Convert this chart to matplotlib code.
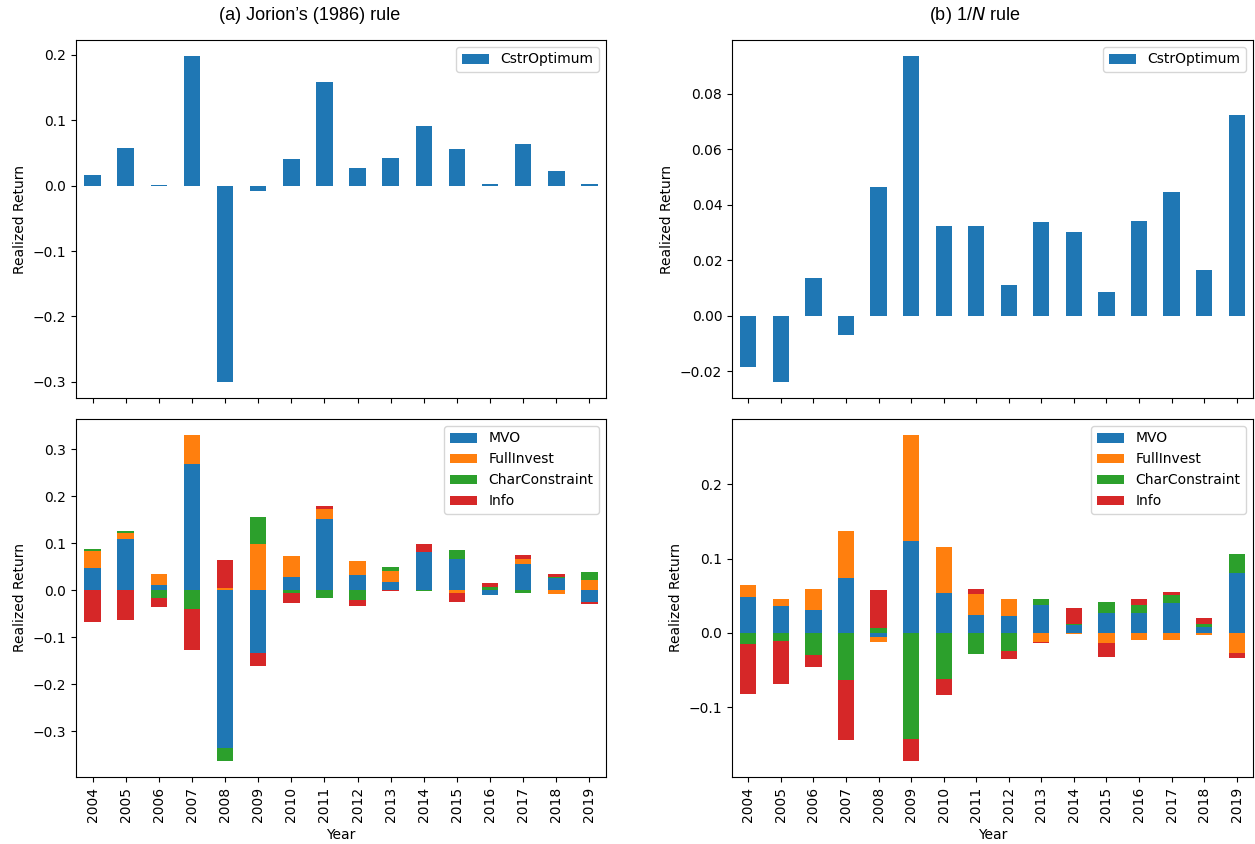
import matplotlib
matplotlib.use("Agg")
import matplotlib.pyplot as plt
import numpy as np

years = [str(y) for y in range(2004, 2020)]
series_names = ["MVO", "FullInvest", "CharConstraint", "Info"]
colors = ["#1f77b4", "#ff7f0e", "#2ca02c", "#d62728"]

# (a) Jorion's rule
cstr_a = [0.016, 0.058, 0.001, 0.198, -0.300, -0.008, 0.041, 0.158,
          0.027, 0.043, 0.091, 0.056, 0.003, 0.063, 0.022, 0.003]
mvo_a = [0.047, 0.110, 0.012, 0.268, -0.335, -0.133, 0.029, 0.152,
         0.032, 0.018, 0.081, 0.067, -0.010, 0.056, 0.026, -0.025]
full_a = [0.036, 0.011, 0.022, 0.062, 0.004, 0.098, 0.043, 0.020,
          0.030, 0.022, 0.000, -0.006, 0.001, 0.011, -0.008, 0.022]
char_a = [0.004, 0.006, -0.017, -0.040, -0.028, 0.058, -0.006, -0.017,
          -0.020, 0.009, -0.001, 0.018, 0.006, -0.005, 0.002, 0.016]
info_a = [-0.068, -0.063, -0.018, -0.088, 0.060, -0.028, -0.021, 0.007,
          -0.013, -0.002, 0.017, -0.018, 0.009, 0.007, 0.006, -0.005]

# (b) 1/N rule
cstr_b = [-0.0185, -0.0238, 0.0137, -0.0069, 0.0465, 0.0935, 0.0322, 0.0322,
          0.0109, 0.0336, 0.0302, 0.0086, 0.0340, 0.0446, 0.0163, 0.0725]
mvo_b = [0.048, 0.036, 0.031, 0.074, -0.005, 0.124, 0.054, 0.024,
         0.023, 0.037, 0.011, 0.027, 0.027, 0.040, 0.008, 0.080]
full_b = [0.016, 0.010, 0.028, 0.063, -0.007, 0.142, 0.062, 0.028,
          0.022, -0.012, -0.002, -0.014, -0.010, -0.010, -0.003, -0.027]
char_b = [-0.015, -0.011, -0.030, -0.063, 0.006, -0.143, -0.062, -0.028,
          -0.024, 0.009, 0.001, 0.014, 0.011, 0.011, 0.004, 0.026]
info_b = [-0.067, -0.058, -0.016, -0.081, 0.052, -0.029, -0.022, 0.007,
          -0.011, -0.002, 0.021, -0.018, 0.007, 0.004, 0.008, -0.007]

W, H = 1255, 844
fig = plt.figure(figsize=(W / 100, H / 100), dpi=100)

def ax_at(x0, y0, x1, y1):
    return fig.add_axes([x0 / W, 1 - y1 / H, (x1 - x0) / W, (y1 - y0) / H])

ax_tl = ax_at(76, 40, 606, 398)
ax_bl = ax_at(76, 419, 606, 777)
ax_tr = ax_at(732, 40, 1253, 398)
ax_br = ax_at(732, 419, 1253, 777)

x = np.arange(len(years))
width = 0.5

def single(ax, vals):
    ax.bar(x, vals, width, color=colors[0], label="CstrOptimum")
    ax.set_xlim(-0.5, len(years) - 0.5)
    ax.set_xticks(x)
    ax.set_xticklabels([])
    ax.set_ylabel("Realized Return")
    ax.legend(loc="upper right")

def stacked(ax, data):
    pos = np.zeros(len(years))
    neg = np.zeros(len(years))
    for name, col, vals in zip(series_names, colors, data):
        v = np.array(vals)
        bottoms = np.where(v >= 0, pos, neg)
        ax.bar(x, v, width, bottom=bottoms, color=col, label=name)
        pos = pos + np.where(v >= 0, v, 0)
        neg = neg + np.where(v < 0, v, 0)
    ax.set_xlim(-0.5, len(years) - 0.5)
    ax.set_xticks(x)
    ax.set_xticklabels(years, rotation=90)
    ax.set_xlabel("Year")
    ax.set_ylabel("Realized Return")
    ax.legend(loc="upper right")

single(ax_tl, cstr_a)
single(ax_tr, cstr_b)
stacked(ax_bl, [mvo_a, full_a, char_a, info_a])
stacked(ax_br, [mvo_b, full_b, char_b, info_b])

tfam = ["Liberation Sans Narrow", "Liberation Sans", "DejaVu Sans"]
fig.text(310 / W, 1 - 15 / H, "(a) Jorion\u2019s (1986) rule", ha="center", va="center",
         fontsize=13, family=tfam)
fig.text(975 / W, 1 - 15 / H, "(b) 1/$\\it{N}$ rule", ha="center", va="center",
         fontsize=13, family=tfam)

fig.savefig("out.png", dpi=100)
